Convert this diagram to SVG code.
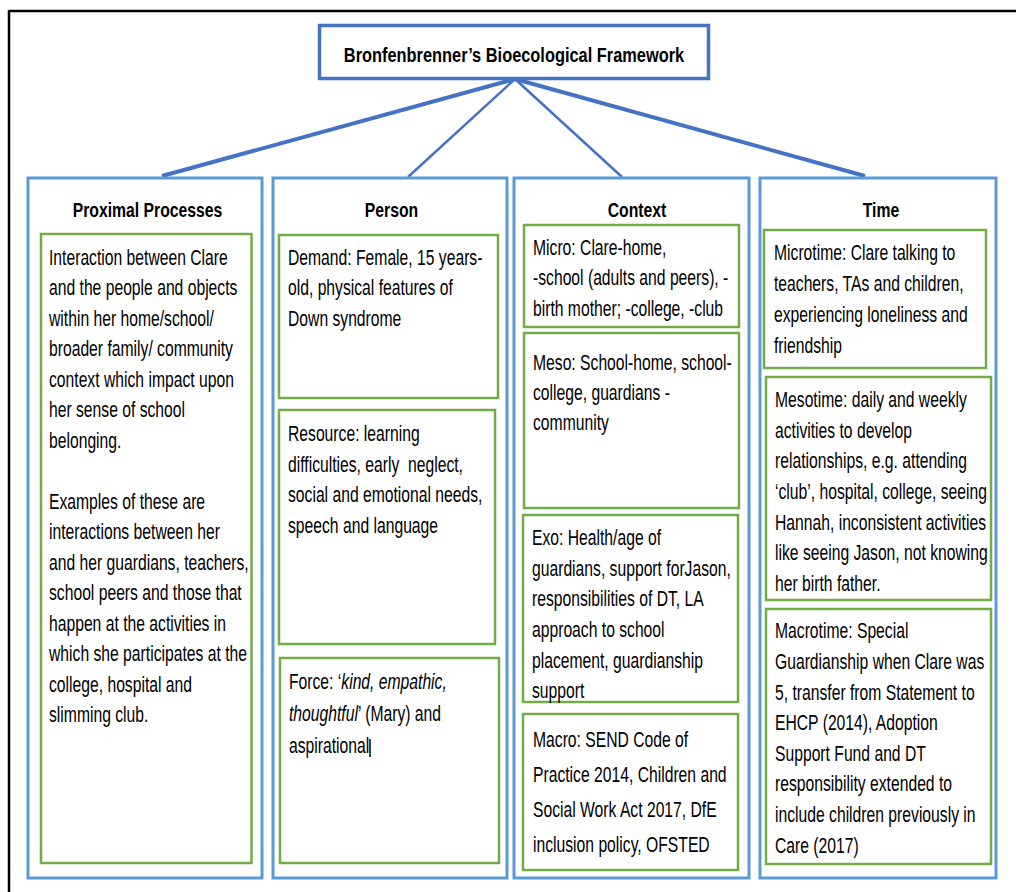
<svg xmlns="http://www.w3.org/2000/svg" width="1016" height="892" viewBox="0 0 1016 892">
  <style>
    .t { font-family: "Liberation Sans", Arial, sans-serif; font-size: 21.5px; fill: #000; }
    .h { font-family: "Liberation Sans", Arial, sans-serif; font-size: 21px; font-weight: bold; fill: #000; text-anchor: middle; }
    .col { fill: #fff; stroke: #5b9bd5; stroke-width: 3; }
    .box { fill: #fff; stroke: #70ad47; stroke-width: 2.5; }
    .title { fill: #fff; stroke: #4472c4; stroke-width: 3.5; }
    .link { stroke: #4472c4; fill: none; stroke-linecap: butt; }
    .frame { stroke: #000; stroke-width: 2.5; fill: none; }
  </style>

  <rect x="0" y="0" width="1016" height="892" fill="#fff"/>

  <!-- page frame -->
  <g id="frame">
    <line class="frame" x1="9" y1="11" x2="1016" y2="11"/>
    <line class="frame" x1="9" y1="10" x2="9" y2="892"/>
  </g>

  <!-- connectors from the title to the four columns -->
  <g id="connectors">
    <line class="link" x1="515" y1="79" x2="162" y2="176" stroke-width="4"/>
    <line class="link" x1="515" y1="79" x2="408" y2="177" stroke-width="2.5"/>
    <line class="link" x1="515" y1="79" x2="622" y2="177" stroke-width="2.5"/>
    <line class="link" x1="515" y1="79" x2="865" y2="176" stroke-width="4"/>
  </g>

  <!-- title -->
  <g id="title">
    <rect class="title" x="319.5" y="25.5" width="389" height="53"/>
    <text class="h" transform="translate(514 61.5) scale(0.78 1)" x="0" y="0">Bronfenbrenner’s Bioecological Framework</text>
  </g>

  <!-- Proximal Processes -->
  <g id="proximal">
    <rect class="col" x="28" y="178" width="234" height="700"/>
    <text class="h" transform="translate(147.5 217) scale(0.75 1)" x="0" y="0">Proximal Processes</text>
    <rect class="box" x="41" y="234" width="210.5" height="629"/>
    <g transform="translate(49 0) scale(0.73 1)">
      <text class="t">
        <tspan x="0" y="265">Interaction between Clare</tspan>
        <tspan x="0" y="295.5">and the people and objects</tspan>
        <tspan x="0" y="326">within her home/school/</tspan>
        <tspan x="0" y="356.5">broader family/ community</tspan>
        <tspan x="0" y="387">context which impact upon</tspan>
        <tspan x="0" y="417.5">her sense of school</tspan>
        <tspan x="0" y="448">belonging.</tspan>
        <tspan x="0" y="509">Examples of these are</tspan>
        <tspan x="0" y="539.5">interactions between her</tspan>
        <tspan x="0" y="570">and her guardians, teachers,</tspan>
        <tspan x="0" y="600.5">school peers and those that</tspan>
        <tspan x="0" y="631">happen at the activities in</tspan>
        <tspan x="0" y="661.5">which she participates at the</tspan>
        <tspan x="0" y="692">college, hospital and</tspan>
        <tspan x="0" y="722.5">slimming club.</tspan>
      </text>
    </g>
  </g>

  <!-- Person -->
  <g id="person">
    <rect class="col" x="273" y="178" width="234" height="700"/>
    <text class="h" transform="translate(391.5 217) scale(0.75 1)" x="0" y="0">Person</text>
    <g id="demand">
      <rect class="box" x="279" y="235" width="219" height="163"/>
      <g transform="translate(288 0) scale(0.73 1)">
        <text class="t">
          <tspan x="0" y="265">Demand: Female, 15 years-</tspan>
          <tspan x="0" y="295.5">old, physical features of</tspan>
          <tspan x="0" y="326">Down syndrome</tspan>
        </text>
      </g>
    </g>
    <g id="resource">
      <rect class="box" x="279" y="410" width="216" height="234"/>
      <g transform="translate(288 0) scale(0.73 1)">
        <text class="t">
          <tspan x="0" y="441.5">Resource: learning</tspan>
          <tspan x="0" y="472">difficulties, early&#160; neglect,</tspan>
          <tspan x="0" y="502.5">social and emotional needs,</tspan>
          <tspan x="0" y="533">speech and language</tspan>
        </text>
      </g>
    </g>
    <g id="force">
      <rect class="box" x="280" y="658" width="219" height="205"/>
      <g transform="translate(289 0) scale(0.73 1)">
        <text class="t">
          <tspan x="0" y="689">Force: ‘<tspan font-style="italic">kind, empathic,</tspan></tspan>
          <tspan x="0" y="721"><tspan font-style="italic">thoughtful</tspan>’ (Mary) and</tspan>
          <tspan x="0" y="753">aspirational</tspan>
        </text>
      </g>
      <line x1="370" y1="739" x2="370" y2="757" stroke="#000" stroke-width="1.5"/>
    </g>
  </g>

  <!-- Context -->
  <g id="context">
    <rect class="col" x="514" y="178" width="235" height="700"/>
    <text class="h" transform="translate(637 217) scale(0.75 1)" x="0" y="0">Context</text>
    <g id="micro">
      <rect class="box" x="524" y="225" width="215" height="102"/>
      <g transform="translate(533 0) scale(0.73 1)">
        <text class="t">
          <tspan x="0" y="255">Micro: Clare-home,</tspan>
          <tspan x="0" y="285.5">-school (adults and peers), -</tspan>
          <tspan x="0" y="316">birth mother; -college, -club</tspan>
        </text>
      </g>
    </g>
    <g id="meso">
      <rect class="box" x="524" y="333" width="215" height="175"/>
      <g transform="translate(533 0) scale(0.73 1)">
        <text class="t">
          <tspan x="0" y="370">Meso: School-home, school-</tspan>
          <tspan x="0" y="400">college, guardians -</tspan>
          <tspan x="0" y="430">community</tspan>
        </text>
      </g>
    </g>
    <g id="exo">
      <rect class="box" x="523" y="515" width="215" height="187"/>
      <g transform="translate(532 0) scale(0.73 1)">
        <text class="t">
          <tspan x="0" y="545">Exo: Health/age of</tspan>
          <tspan x="0" y="576">guardians, support forJason,</tspan>
          <tspan x="0" y="606.5">responsibilities of DT, LA</tspan>
          <tspan x="0" y="637">approach to school</tspan>
          <tspan x="0" y="668">placement, guardianship</tspan>
          <tspan x="0" y="698">support</tspan>
        </text>
      </g>
    </g>
    <g id="macro">
      <rect class="box" x="523" y="714" width="215" height="156"/>
      <g transform="translate(533 0) scale(0.73 1)">
        <text class="t">
          <tspan x="0" y="747">Macro: SEND Code of</tspan>
          <tspan x="0" y="782">Practice 2014, Children and</tspan>
          <tspan x="0" y="817">Social Work Act 2017, DfE</tspan>
          <tspan x="0" y="852">inclusion policy, OFSTED</tspan>
        </text>
      </g>
    </g>
  </g>

  <!-- Time -->
  <g id="time">
    <rect class="col" x="760" y="178" width="236" height="700"/>
    <text class="h" transform="translate(881 217) scale(0.75 1)" x="0" y="0">Time</text>
    <g id="microtime">
      <rect class="box" x="764" y="230" width="222" height="138"/>
      <g transform="translate(774 0) scale(0.73 1)">
        <text class="t">
          <tspan x="0" y="260">Microtime: Clare talking to</tspan>
          <tspan x="0" y="291">teachers, TAs and children,</tspan>
          <tspan x="0" y="322">experiencing loneliness and</tspan>
          <tspan x="0" y="353">friendship</tspan>
        </text>
      </g>
    </g>
    <g id="mesotime">
      <rect class="box" x="766" y="377" width="225" height="223"/>
      <g transform="translate(775 0) scale(0.73 1)">
        <text class="t">
          <tspan x="0" y="407">Mesotime: daily and weekly</tspan>
          <tspan x="0" y="438">activities to develop</tspan>
          <tspan x="0" y="468.5">relationships, e.g. attending</tspan>
          <tspan x="0" y="499.5">‘club’, hospital, college, seeing</tspan>
          <tspan x="0" y="530">Hannah, inconsistent activities</tspan>
          <tspan x="0" y="560.5">like seeing Jason, not knowing</tspan>
          <tspan x="0" y="591">her birth father.</tspan>
        </text>
      </g>
    </g>
    <g id="macrotime">
      <rect class="box" x="766" y="609" width="225" height="255"/>
      <g transform="translate(775 0) scale(0.73 1)">
        <text class="t">
          <tspan x="0" y="638.5">Macrotime: Special</tspan>
          <tspan x="0" y="669">Guardianship when Clare was</tspan>
          <tspan x="0" y="700">5, transfer from Statement to</tspan>
          <tspan x="0" y="730.5">EHCP (2014), Adoption</tspan>
          <tspan x="0" y="761">Support Fund and DT</tspan>
          <tspan x="0" y="791.5">responsibility extended to</tspan>
          <tspan x="0" y="822">include children previously in</tspan>
          <tspan x="0" y="853">Care (2017)</tspan>
        </text>
      </g>
    </g>
  </g>
</svg>
